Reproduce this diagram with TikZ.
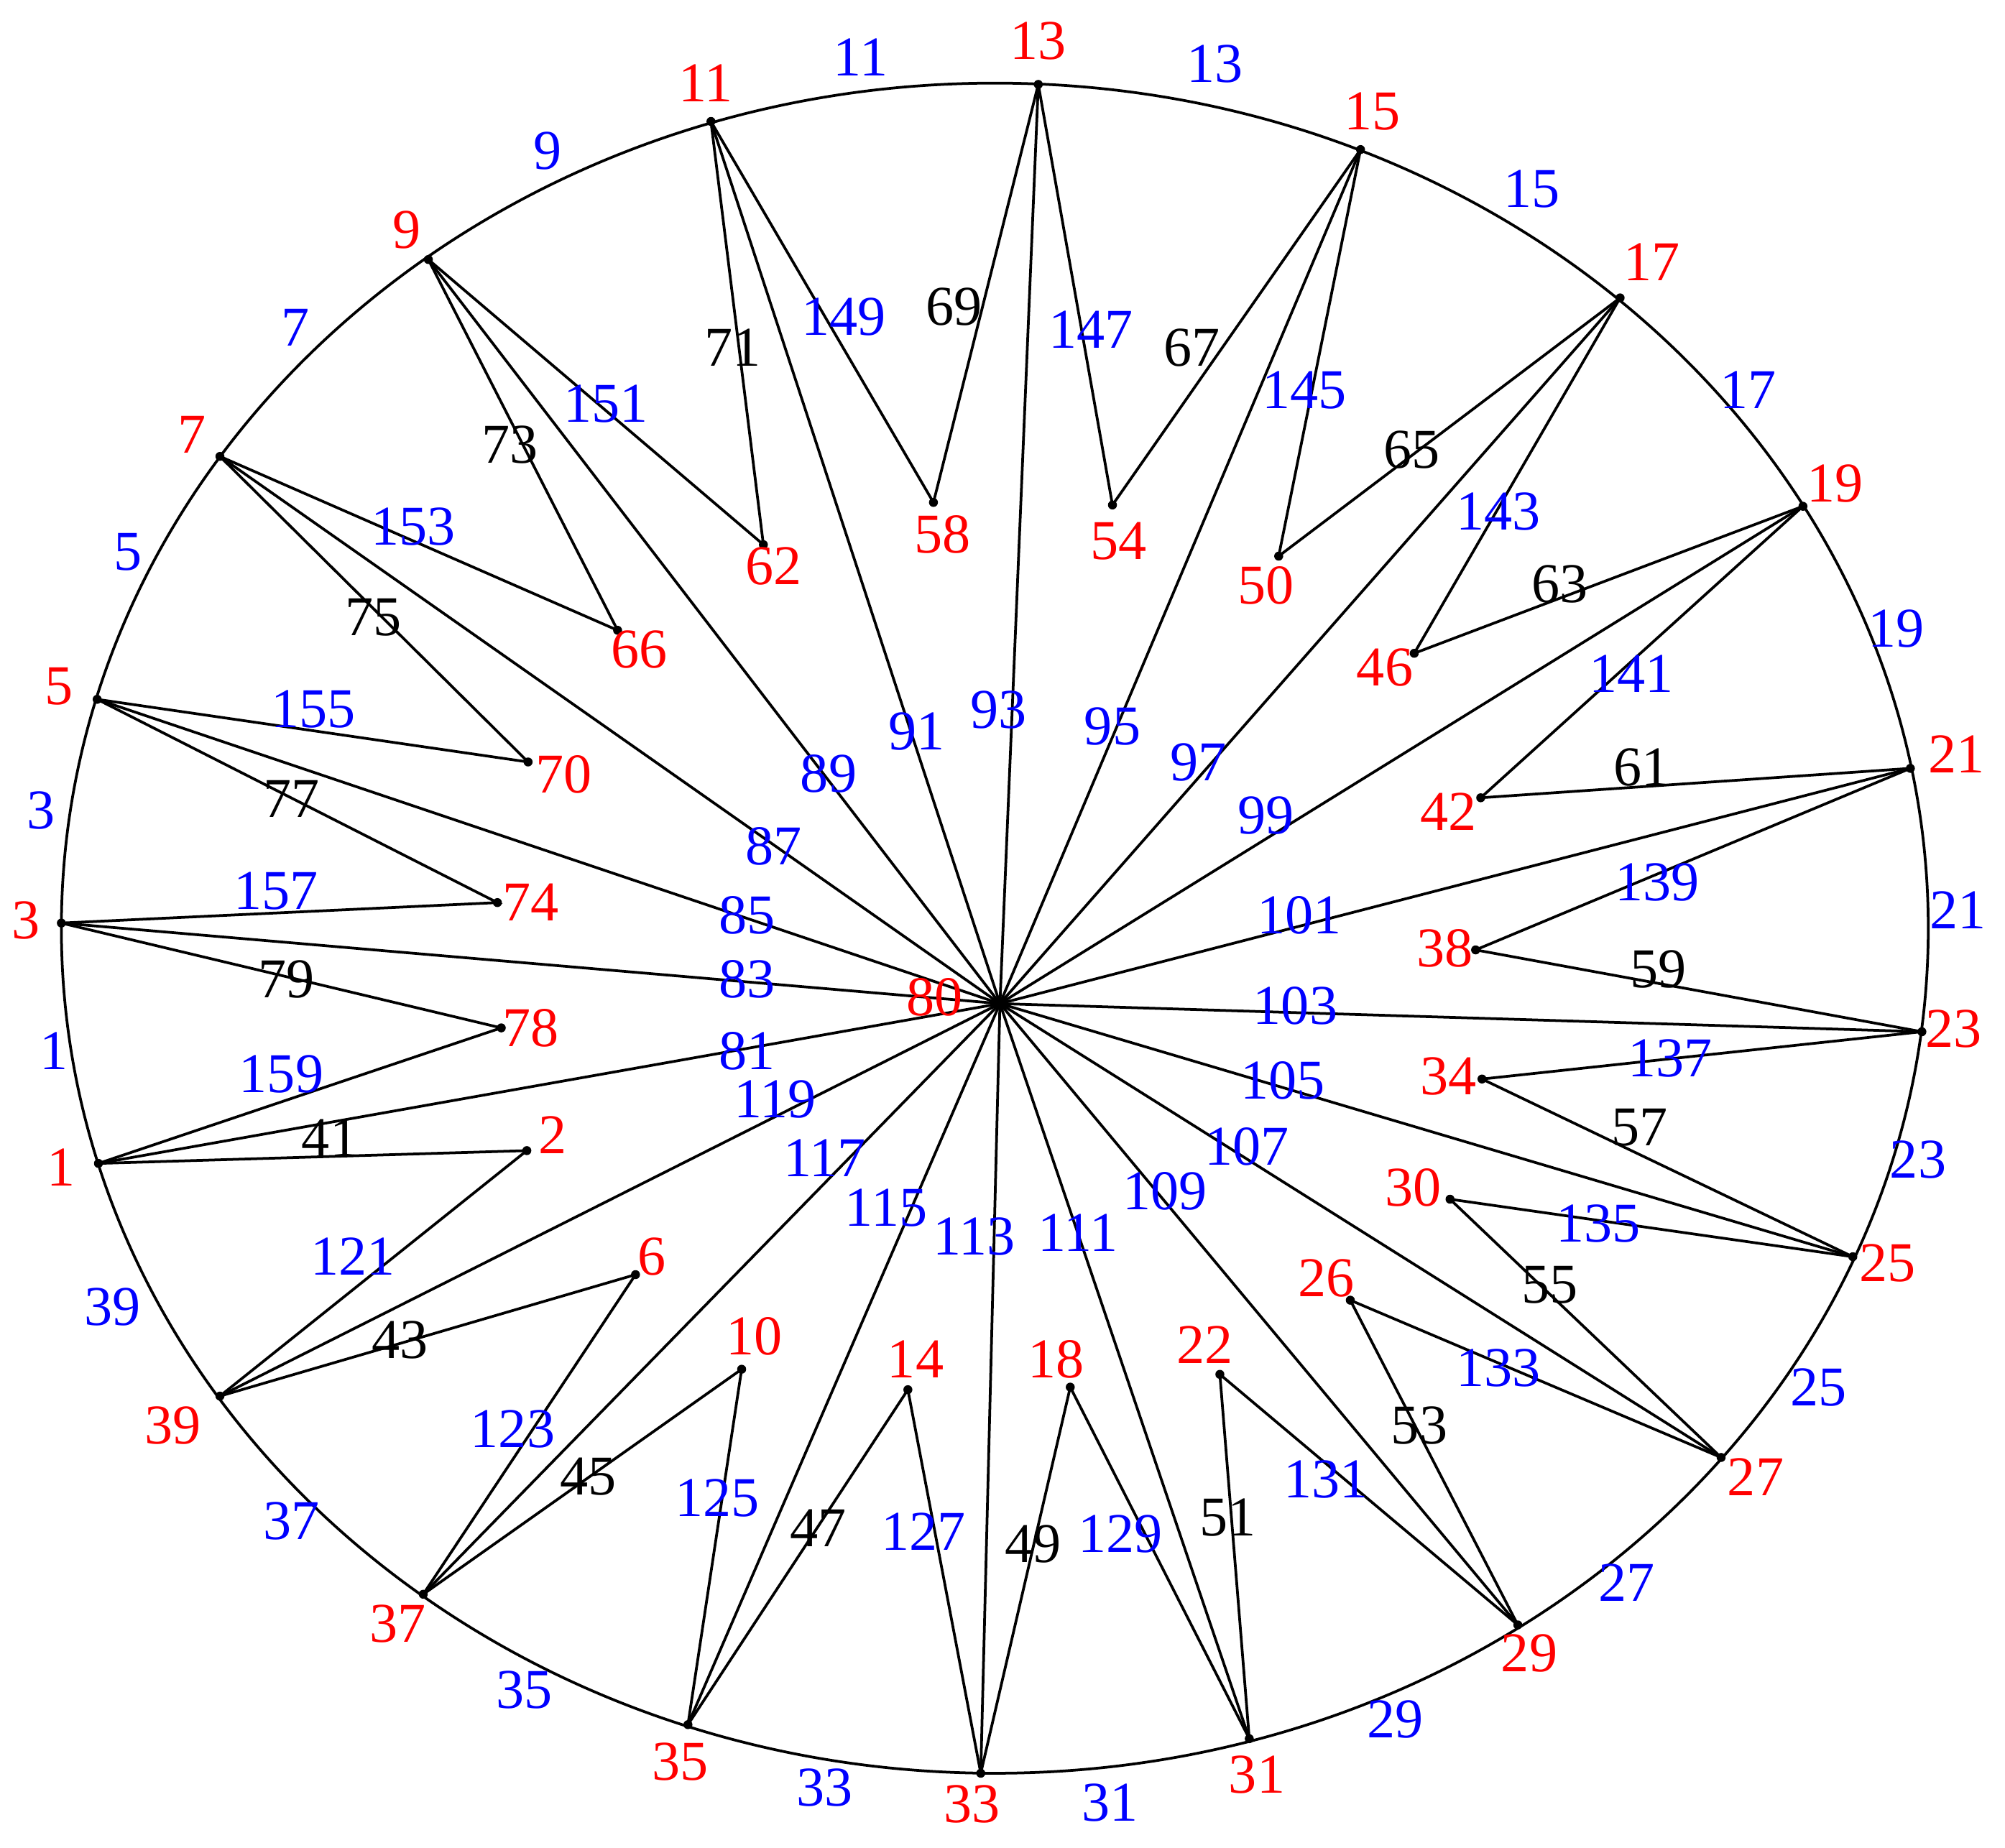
\documentclass[tikz,border=0pt]{standalone}
\usepackage{fontspec}
\setmainfont{Liberation Serif}
\begin{document}
\begin{tikzpicture}[x=0.01cm,y=-0.01cm,line width=0.6pt,
	every node/.style={inner sep=0pt,font=\fontsize{12.5}{13}\selectfont},
	redlbl/.style={text=red},
	bluelbl/.style={text=blue},
	blacklbl/.style={text=black}]
	\useasboundingbox (0,0) rectangle (1568,1445);
	%\draw [help lines] (0,0) grid[step=100] (1568,1445);
	\coordinate (M) at (778,726);
	\coordinate (O) at (782,785);
	\coordinate (P1) at (77,910);
	\coordinate (P3) at (48,722);
	\coordinate (P5) at (76,547);
	\coordinate (P7) at (172,357);
	\coordinate (P9) at (335,203);
	\coordinate (P11) at (556,95);
	\coordinate (P13) at (812,66);
	\coordinate (P15) at (1064,117);
	\coordinate (P17) at (1267,233);
	\coordinate (P19) at (1410,396);
	\coordinate (P21) at (1494,601);
	\coordinate (P23) at (1503,807);
	\coordinate (P25) at (1449,983);
	\coordinate (P27) at (1346,1140);
	\coordinate (P29) at (1187,1271);
	\coordinate (P31) at (977,1360);
	\coordinate (P33) at (767,1387);
	\coordinate (P35) at (538,1349);
	\coordinate (P37) at (331,1247);
	\coordinate (P39) at (172,1092);
	\coordinate (Q2) at (412,900);
	\coordinate (Q6) at (497,997);
	\coordinate (Q10) at (580,1071);
	\coordinate (Q14) at (710,1087);
	\coordinate (Q18) at (837,1085);
	\coordinate (Q22) at (954,1075);
	\coordinate (Q26) at (1056,1017);
	\coordinate (Q30) at (1134,938);
	\coordinate (Q34) at (1159,844);
	\coordinate (Q38) at (1154,743);
	\coordinate (Q42) at (1158,624);
	\coordinate (Q46) at (1106,511);
	\coordinate (Q50) at (1000,435);
	\coordinate (Q54) at (870,395);
	\coordinate (Q58) at (730,393);
	\coordinate (Q62) at (597,426);
	\coordinate (Q66) at (483,493);
	\coordinate (Q70) at (413,596);
	\coordinate (Q74) at (389,706);
	\coordinate (Q78) at (392,804);
	\draw (M) ellipse [x radius=730,y radius=661];
	% spokes from the centre
	\draw (O) to (P1);
	\draw (O) to (P3);
	\draw (O) to (P5);
	\draw (O) to (P7);
	\draw (O) to (P9);
	\draw (O) to (P11);
	\draw (O) to (P13);
	\draw (O) to (P15);
	\draw (O) to (P17);
	\draw (O) to (P19);
	\draw (O) to (P21);
	\draw (O) to (P23);
	\draw (O) to (P25);
	\draw (O) to (P27);
	\draw (O) to (P29);
	\draw (O) to (P31);
	\draw (O) to (P33);
	\draw (O) to (P35);
	\draw (O) to (P37);
	\draw (O) to (P39);
	% inner spikes
	\draw (P1) to (Q2) to (P39);
	\draw (P39) to (Q6) to (P37);
	\draw (P37) to (Q10) to (P35);
	\draw (P35) to (Q14) to (P33);
	\draw (P33) to (Q18) to (P31);
	\draw (P31) to (Q22) to (P29);
	\draw (P29) to (Q26) to (P27);
	\draw (P27) to (Q30) to (P25);
	\draw (P25) to (Q34) to (P23);
	\draw (P23) to (Q38) to (P21);
	\draw (P21) to (Q42) to (P19);
	\draw (P19) to (Q46) to (P17);
	\draw (P17) to (Q50) to (P15);
	\draw (P15) to (Q54) to (P13);
	\draw (P13) to (Q58) to (P11);
	\draw (P11) to (Q62) to (P9);
	\draw (P9) to (Q66) to (P7);
	\draw (P7) to (Q70) to (P5);
	\draw (P5) to (Q74) to (P3);
	\draw (P3) to (Q78) to (P1);
	% vertices
	\fill (O) circle (1pt) node[redlbl] (n80) at (731,780) {80};
	\fill (P1) circle (1pt) node[redlbl] (n1) at (48,913) {1};
	\fill (P3) circle (1pt) node[redlbl] (n3) at (20,720) {3};
	\fill (P5) circle (1pt) node[redlbl] (n5) at (46,537) {5};
	\fill (P7) circle (1pt) node[redlbl] (n7) at (150,340) {7};
	\fill (P9) circle (1pt) node[redlbl] (n9) at (318,180) {9};
	\fill (P11) circle (1pt) node[redlbl] (n11) at (552,65) {11};
	\fill (P13) circle (1pt) node[redlbl] (n13) at (812,32) {13};
	\fill (P15) circle (1pt) node[redlbl] (n15) at (1073,87) {15};
	\fill (P17) circle (1pt) node[redlbl] (n17) at (1292,205) {17};
	\fill (P19) circle (1pt) node[redlbl] (n19) at (1435,378) {19};
	\fill (P21) circle (1pt) node[redlbl] (n21) at (1530,590) {21};
	\fill (P23) circle (1pt) node[redlbl] (n23) at (1528,805) {23};
	\fill (P25) circle (1pt) node[redlbl] (n25) at (1476,988) {25};
	\fill (P27) circle (1pt) node[redlbl] (n27) at (1373,1155) {27};
	\fill (P29) circle (1pt) node[redlbl] (n29) at (1196,1293) {29};
	\fill (P31) circle (1pt) node[redlbl] (n31) at (983,1388) {31};
	\fill (P33) circle (1pt) node[redlbl] (n33) at (760,1411) {33};
	\fill (P35) circle (1pt) node[redlbl] (n35) at (532,1378) {35};
	\fill (P37) circle (1pt) node[redlbl] (n37) at (311,1270) {37};
	\fill (P39) circle (1pt) node[redlbl] (n39) at (135,1115) {39};
	\fill (Q2) circle (1pt) node[redlbl] (n2) at (432,888) {2};
	\fill (Q6) circle (1pt) node[redlbl] (n6) at (510,983) {6};
	\fill (Q10) circle (1pt) node[redlbl] (n10) at (590,1045) {10};
	\fill (Q14) circle (1pt) node[redlbl] (n14) at (716,1063) {14};
	\fill (Q18) circle (1pt) node[redlbl] (n18) at (826,1063) {18};
	\fill (Q22) circle (1pt) node[redlbl] (n22) at (942,1052) {22};
	\fill (Q26) circle (1pt) node[redlbl] (n26) at (1037,1000) {26};
	\fill (Q30) circle (1pt) node[redlbl] (n30) at (1105,929) {30};
	\fill (Q34) circle (1pt) node[redlbl] (n34) at (1133,842) {34};
	\fill (Q38) circle (1pt) node[redlbl] (n38) at (1130,742) {38};
	\fill (Q42) circle (1pt) node[redlbl] (n42) at (1133,635) {42};
	\fill (Q46) circle (1pt) node[redlbl] (n46) at (1083,522) {46};
	\fill (Q50) circle (1pt) node[redlbl] (n50) at (990,458) {50};
	\fill (Q54) circle (1pt) node[redlbl] (n54) at (875,423) {54};
	\fill (Q58) circle (1pt) node[redlbl] (n58) at (737,418) {58};
	\fill (Q62) circle (1pt) node[redlbl] (n62) at (605,443) {62};
	\fill (Q66) circle (1pt) node[redlbl] (n66) at (500,508) {66};
	\fill (Q70) circle (1pt) node[redlbl] (n70) at (441,606) {70};
	\fill (Q74) circle (1pt) node[redlbl] (n74) at (415,706) {74};
	\fill (Q78) circle (1pt) node[redlbl] (n78) at (415,804) {78};
	% labels of the ellipse arcs
	\node[bluelbl] (e1) at (42,822) {1};
	\node[bluelbl] (e3) at (32,634) {3};
	\node[bluelbl] (e5) at (100,432) {5};
	\node[bluelbl] (e7) at (231,256) {7};
	\node[bluelbl] (e9) at (428,118) {9};
	\node[bluelbl] (e11) at (673,45) {11};
	\node[bluelbl] (e13) at (950,50) {13};
	\node[bluelbl] (e15) at (1198,148) {15};
	\node[bluelbl] (e17) at (1367,305) {17};
	\node[bluelbl] (e19) at (1483,492) {19};
	\node[bluelbl] (e21) at (1531,712) {21};
	\node[bluelbl] (e23) at (1500,907) {23};
	\node[bluelbl] (e25) at (1422,1085) {25};
	\node[bluelbl] (e27) at (1272,1238) {27};
	\node[bluelbl] (e29) at (1091,1345) {29};
	\node[bluelbl] (e31) at (868,1410) {31};
	\node[bluelbl] (e33) at (645,1398) {33};
	\node[bluelbl] (e35) at (410,1322) {35};
	\node[bluelbl] (e37) at (228,1190) {37};
	\node[bluelbl] (e39) at (88,1022) {39};
	% labels of the spokes
	\node[bluelbl] (e81) at (584,822) {81};
	\node[bluelbl] (e83) at (584,766) {83};
	\node[bluelbl] (e85) at (584,716) {85};
	\node[bluelbl] (e87) at (605,662) {87};
	\node[bluelbl] (e89) at (648,605) {89};
	\node[bluelbl] (e91) at (717,572) {91};
	\node[bluelbl] (e93) at (781,555) {93};
	\node[bluelbl] (e95) at (870,568) {95};
	\node[bluelbl] (e97) at (937,596) {97};
	\node[bluelbl] (e99) at (990,638) {99};
	\node[bluelbl] (e101) at (1016,716) {101};
	\node[bluelbl] (e103) at (1013,787) {103};
	\node[bluelbl] (e105) at (1003,845) {105};
	\node[bluelbl] (e107) at (975,897) {107};
	\node[bluelbl] (e109) at (911,932) {109};
	\node[bluelbl] (e111) at (843,964) {111};
	\node[bluelbl] (e113) at (762,967) {113};
	\node[bluelbl] (e115) at (693,945) {115};
	\node[bluelbl] (e117) at (645,906) {117};
	\node[bluelbl] (e119) at (606,860) {119};
	% labels of the spikes
	\node[blacklbl] (e41) at (258,890) {41};
	\node[blacklbl] (e43) at (313,1048) {43};
	\node[blacklbl] (e45) at (460,1155) {45};
	\node[blacklbl] (e47) at (640,1195) {47};
	\node[blacklbl] (e49) at (808,1208) {49};
	\node[blacklbl] (e51) at (960,1187) {51};
	\node[blacklbl] (e53) at (1110,1115) {53};
	\node[blacklbl] (e55) at (1212,1005) {55};
	\node[blacklbl] (e57) at (1282,882) {57};
	\node[blacklbl] (e59) at (1297,758) {59};
	\node[blacklbl] (e61) at (1284,600) {61};
	\node[blacklbl] (e63) at (1220,457) {63};
	\node[blacklbl] (e65) at (1104,352) {65};
	\node[blacklbl] (e67) at (932,272) {67};
	\node[blacklbl] (e69) at (746,240) {69};
	\node[blacklbl] (e71) at (573,272) {71};
	\node[blacklbl] (e73) at (399,348) {73};
	\node[blacklbl] (e75) at (292,483) {75};
	\node[blacklbl] (e77) at (228,625) {77};
	\node[blacklbl] (e79) at (224,766) {79};
	\node[bluelbl] (e121) at (276,983) {121};
	\node[bluelbl] (e123) at (401,1118) {123};
	\node[bluelbl] (e125) at (561,1172) {125};
	\node[bluelbl] (e127) at (722,1198) {127};
	\node[bluelbl] (e129) at (876,1200) {129};
	\node[bluelbl] (e131) at (1037,1157) {131};
	\node[bluelbl] (e133) at (1172,1070) {133};
	\node[bluelbl] (e135) at (1250,957) {135};
	\node[bluelbl] (e137) at (1306,828) {137};
	\node[bluelbl] (e139) at (1296,690) {139};
	\node[bluelbl] (e141) at (1276,527) {141};
	\node[bluelbl] (e143) at (1172,400) {143};
	\node[bluelbl] (e145) at (1020,305) {145};
	\node[bluelbl] (e147) at (853,258) {147};
	\node[bluelbl] (e149) at (660,248) {149};
	\node[bluelbl] (e151) at (474,316) {151};
	\node[bluelbl] (e153) at (323,412) {153};
	\node[bluelbl] (e155) at (245,555) {155};
	\node[bluelbl] (e157) at (216,697) {157};
	\node[bluelbl] (e159) at (220,840) {159};
\end{tikzpicture}
\end{document}
